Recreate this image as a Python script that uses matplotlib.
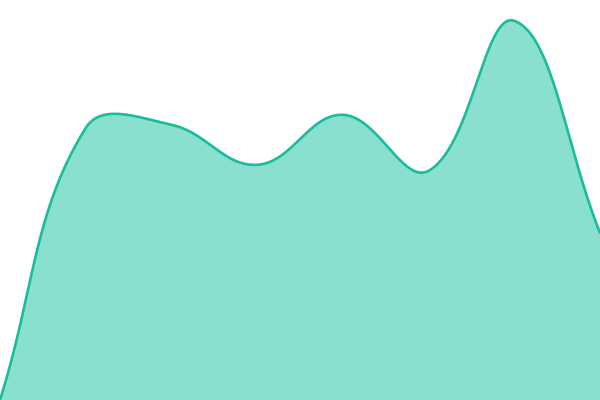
import matplotlib
matplotlib.use('Agg')
import matplotlib.pyplot as plt
import numpy as np

# one value per point, y axis 0..100
labels = ['P1', 'P2', 'P3', 'P4', 'P5', 'P6', 'P7', 'P8']
values = [0, 68, 68.8, 58.8, 71.3, 57.3, 94.8, 41.8]

LINE_COL = '#1abc9c'
FILL_COL = '#8ae0cf'
TENSION = 0.4
W, H = 600, 400


def spline_controls(pts, t):
    # Chart.js style control points, computed in pixel space
    n = len(pts)
    ctrls = []
    prev = pts[0]
    for i in range(n):
        cur = pts[i]
        nxt = pts[min(i + 1, n - 1)]
        d01 = np.hypot(*(cur - prev))
        d12 = np.hypot(*(nxt - cur))
        tot = d01 + d12
        s01 = d01 / tot if tot else 0
        s12 = d12 / tot if tot else 0
        c_prev = cur - t * s01 * (nxt - prev)
        c_next = cur + t * s12 * (nxt - prev)
        c_prev = np.clip(c_prev, [0, 0], [W, H])
        c_next = np.clip(c_next, [0, 0], [W, H])
        ctrls.append((c_prev, c_next))
        prev = cur
    return ctrls


def smooth_curve(xs, ys):
    pts = np.column_stack([xs, ys])
    ctrls = spline_controls(pts, TENSION)
    tt = np.linspace(0, 1, 60)[:, None]
    out = []
    for i in range(len(pts) - 1):
        p0, p3 = pts[i], pts[i + 1]
        p1, p2 = ctrls[i][1], ctrls[i + 1][0]
        seg = ((1 - tt) ** 3 * p0 + 3 * (1 - tt) ** 2 * tt * p1
               + 3 * (1 - tt) * tt ** 2 * p2 + tt ** 3 * p3)
        out.append(seg if i == 0 else seg[1:])
    return np.vstack(out)


fig = plt.figure(figsize=(6, 4), dpi=100)
ax = fig.add_axes([0, 0, 1, 1])
ax.set_xlim(0, len(values) - 1)
ax.set_ylim(0, 100)
ax.axis('off')

# to pixels, smooth, back to data units
xs_px = np.arange(len(values)) * W / (len(values) - 1)
ys_px = np.array(values) * H / 100.0
curve = smooth_curve(xs_px, ys_px)
cx = curve[:, 0] * (len(values) - 1) / W
cy = curve[:, 1] * 100.0 / H

ax.fill_between(cx, 0, cy, color=FILL_COL, linewidth=0)
ax.plot(cx, cy, color=LINE_COL, lw=1.9, solid_capstyle='round')

fig.savefig('out.png', dpi=100)
